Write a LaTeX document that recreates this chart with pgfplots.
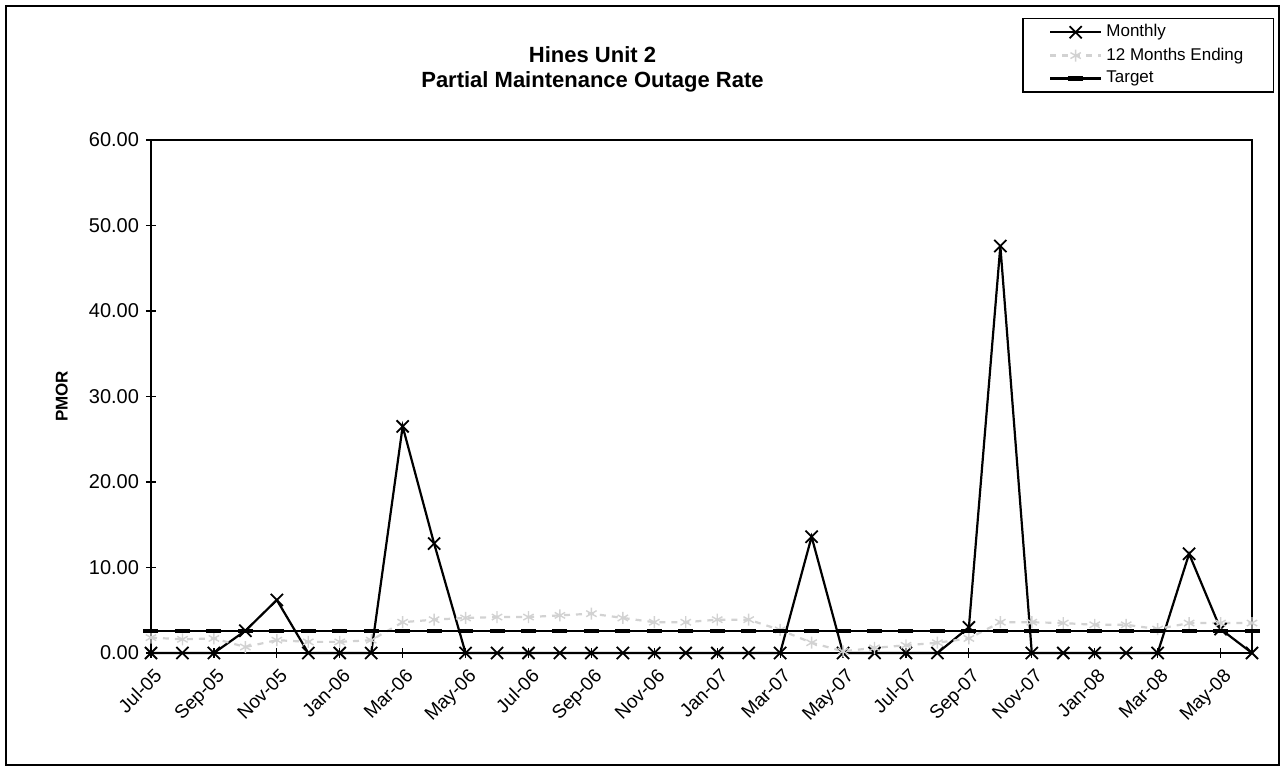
\documentclass[border=0pt]{standalone}
\usepackage{fontspec}
\setmainfont{Liberation Sans}
\usepackage{pgfplots}
\usepackage{pgfplotstable}
\pgfplotsset{compat=1.18}

% idx  monthly  twelve (12 months ending)
\pgfplotstableread{
idx monthly twelve
0  0.0  1.8
1  0.0  1.6
2  0.0  1.7
3  2.6  0.7
4  6.2  1.5
5  0.0  1.3
6  0.0  1.3
7  0.0  1.5
8  26.5 3.6
9  12.8 3.9
10 0.0  4.1
11 0.0  4.2
12 0.0  4.2
13 0.0  4.4
14 0.0  4.6
15 0.0  4.1
16 0.0  3.6
17 0.0  3.6
18 0.0  3.9
19 0.0  3.9
20 0.0  2.7
21 13.6 1.2
22 0.0  0.2
23 0.0  0.6
24 0.0  0.9
25 0.0  1.2
26 3.0  1.7
27 47.6 3.6
28 0.0  3.6
29 0.0  3.5
30 0.0  3.3
31 0.0  3.3
32 0.0  2.8
33 11.6 3.5
34 2.8  3.5
35 0.0  3.5
}\pmordata

\begin{document}
\begin{tikzpicture}
% page = whole chart area, border drawn round it
\path (-75.5pt,-58pt) rectangle (566pt,326.5pt);
\draw[line width=0.8pt] (-72.5pt,-56pt) rectangle (564pt,323.5pt);
\begin{axis}[
    at={(0,0)}, anchor=south west,
    scale only axis,
    width=550.5pt, height=256.5pt,
    xmin=0, xmax=35, ymin=0, ymax=60,
    clip=false,
    axis line style={line width=0.9pt},
    /pgf/number format/assume math mode=true,
    xtick={0,2,...,34},
    xticklabels={Jul-05,Sep-05,Nov-05,Jan-06,Mar-06,May-06,Jul-06,Sep-06,Nov-06,Jan-07,Mar-07,May-07,Jul-07,Sep-07,Nov-07,Jan-08,Mar-08,May-08},
    x tick label style={rotate=45, anchor=north east, font=\fontsize{9.5}{11}\selectfont, inner sep=1pt, xshift=-1.5pt, yshift=-3pt},
    ytick={0,10,...,60},
    y tick label style={font=\fontsize{10}{12}\selectfont,
      /pgf/number format/fixed, /pgf/number format/fixed zerofill,
      /pgf/number format/precision=2},
    xtick pos=lower, ytick pos=left,
    tick align=center,
    major tick length=5pt,
    tick style={black, line width=0.6pt},
    ylabel={PMOR},
    ylabel style={at={(axis description cs:-0.081,0.5)}, anchor=center, font=\bfseries\fontsize{8.5}{10}\selectfont},
    title={Hines Unit 2\\Partial Maintenance Outage Rate},
    title style={at={(axis description cs:0.401,1.115)}, anchor=center, align=center, font=\bfseries\fontsize{11}{12.5}\selectfont},
    legend style={at={(axis description cs:1.020,1.2378)}, anchor=north east,
      draw=black, line width=0.6pt, font=\fontsize{8.5}{10}\selectfont,
      cells={anchor=west}, inner xsep=13pt, inner ysep=1pt, row sep=0pt},
    legend image code/.code={\draw[mark repeat=2,mark phase=2,#1] plot coordinates {(0cm,0cm) (0.45cm,0cm) (0.9cm,0cm)};},
]
\addplot[black, line width=1.1pt, mark=x, mark size=4.3pt, mark options={line width=0.9pt}]
  table[x=idx, y=monthly] {\pmordata};
\addlegendentry{Monthly}
\addplot[gray!35, line width=1.1pt, dashed, mark=asterisk, mark size=3pt, mark options={solid, line width=0.7pt}]
  table[x=idx, y=twelve] {\pmordata};
\addlegendentry{12 Months Ending}
\addplot[black, line width=1.1pt, mark=-, mark size=3.75pt, mark options={line width=2.2pt}]
  coordinates {(0,2.57) (1,2.57) (2,2.57) (3,2.57) (4,2.57) (5,2.57) (6,2.57) (7,2.57) (8,2.57) (9,2.57)
   (10,2.57) (11,2.57) (12,2.57) (13,2.57) (14,2.57) (15,2.57) (16,2.57) (17,2.57) (18,2.57) (19,2.57)
   (20,2.57) (21,2.57) (22,2.57) (23,2.57) (24,2.57) (25,2.57) (26,2.57) (27,2.57) (28,2.57) (29,2.57)
   (30,2.57) (31,2.57) (32,2.57) (33,2.57) (34,2.57) (35,2.57)};
\addlegendentry{Target}
\end{axis}
\end{tikzpicture}
\end{document}
